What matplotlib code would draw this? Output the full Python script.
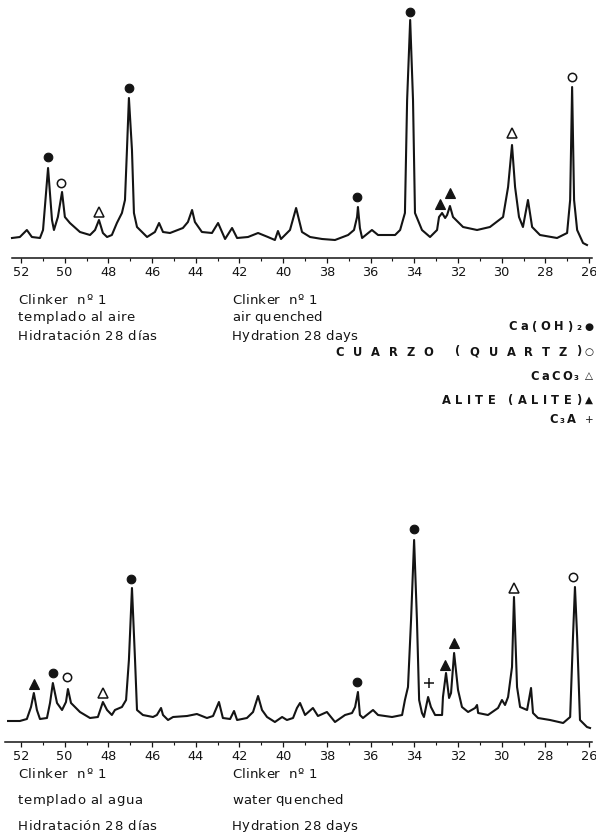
import matplotlib
matplotlib.use("Agg")
import matplotlib.pyplot as plt
from matplotlib.font_manager import FontProperties
from matplotlib.ticker import MultipleLocator

# ---------------- data (2-theta in degrees, relative intensity) ----------------
top_theta = [52.41, 52.05, 51.73, 51.50, 51.13, 50.99, 50.76, 50.58, 50.49, 50.31,
             50.12, 49.99, 49.76, 49.30, 48.84, 48.61, 48.43, 48.25, 48.06, 47.84,
             47.61, 47.38, 47.24, 47.15, 47.06, 46.92, 46.83, 46.69, 46.23, 45.87,
             45.68, 45.50, 45.18, 44.59, 44.36, 44.17, 44.04, 43.72, 43.26, 42.98,
             42.66, 42.34, 42.11, 41.61, 41.15, 40.70, 40.38, 40.24, 40.10, 39.69,
             39.41, 39.14, 38.77, 38.22, 37.63, 37.03, 36.76, 36.62, 36.58, 36.49,
             36.39, 35.94, 35.66, 34.88, 34.65, 34.43, 34.33, 34.19, 34.06, 33.97,
             33.65, 33.28, 32.96, 32.87, 32.73, 32.59, 32.50, 32.37, 32.23, 31.77,
             31.13, 30.54, 29.94, 29.71, 29.53, 29.39, 29.21, 29.03, 28.80, 28.61,
             28.25, 27.47, 27.01, 26.87, 26.78, 26.69, 26.55, 26.28, 26.10]
top_int = [20, 21, 28, 21, 20, 28, 90, 38, 28, 41,
           66, 41, 35, 26, 23, 28, 38, 25, 21, 23,
           35, 45, 58, 108, 160, 108, 45, 31, 21, 26,
           35, 26, 25, 30, 36, 48, 36, 26, 25, 35,
           19, 30, 20, 21, 25, 21, 18, 27, 19, 28,
           50, 26, 21, 19, 18, 23, 28, 41, 51, 30,
           20, 28, 23, 23, 28, 45, 158, 238, 158, 45,
           28, 21, 28, 41, 45, 40, 43, 52, 41, 31,
           28, 31, 41, 71, 113, 71, 41, 31, 58, 31,
           23, 20, 25, 58, 171, 58, 28, 15, 13]

bot_theta = [52.59, 52.05, 51.73, 51.54, 51.41, 51.27, 51.13, 50.81, 50.67, 50.54,
             50.35, 50.12, 49.94, 49.85, 49.71, 49.30, 48.84, 48.48, 48.25, 48.06,
             47.84, 47.70, 47.38, 47.19, 47.06, 46.92, 46.78, 46.69, 46.42, 45.96,
             45.78, 45.59, 45.50, 45.27, 45.04, 44.40, 43.95, 43.49, 43.21, 42.94,
             42.76, 42.43, 42.25, 42.11, 41.66, 41.38, 41.15, 40.97, 40.74, 40.38,
             40.05, 39.83, 39.55, 39.37, 39.23, 39.00, 38.64, 38.41, 38.00, 37.63,
             37.17, 36.85, 36.71, 36.58, 36.49, 36.35, 35.89, 35.66, 35.02, 34.56,
             34.43, 34.29, 34.15, 34.01, 33.88, 33.78, 33.65, 33.56, 33.37, 33.24,
             33.05, 32.73, 32.69, 32.55, 32.41, 32.32, 32.18, 32.00, 31.82, 31.54,
             31.22, 31.13, 31.08, 30.63, 30.17, 29.99, 29.85, 29.71, 29.53, 29.44,
             29.30, 29.16, 28.84, 28.66, 28.57, 28.34, 27.79, 27.19, 26.87, 26.74,
             26.65, 26.55, 26.42, 26.10, 25.96]
bot_int = [21, 21, 23, 35, 49, 32, 23, 24, 39, 59,
           39, 32, 40, 53, 39, 30, 24, 25, 40, 32,
           27, 32, 35, 42, 82, 154, 82, 32, 27, 25,
           27, 34, 27, 22, 25, 26, 28, 24, 26, 40,
           24, 23, 31, 22, 24, 30, 46, 32, 25, 20,
           25, 22, 24, 34, 39, 27, 34, 26, 30, 20,
           27, 29, 35, 50, 27, 24, 32, 27, 25, 27,
           42, 55, 122, 202, 122, 42, 29, 25, 45, 35,
           27, 27, 45, 69, 44, 49, 89, 52, 35, 30,
           34, 37, 29, 27, 34, 42, 37, 45, 75, 145,
           55, 35, 32, 54, 29, 24, 22, 19, 25, 105,
           155, 105, 22, 15, 14]

# phase markers
top_marks_kind = ["CH", "Q", "CC", "CH", "CH", "CH", "AL", "AL", "CC", "Q"]
top_marks_x = [50.76, 50.17, 48.43, 47.06, 36.62, 34.19, 32.82, 32.37, 29.53, 26.78]
top_marks_y = [101, 75, 46, 170, 61, 246, 54, 65, 125, 181]

bot_marks_kind = ["AL", "CH", "Q", "CC", "CH", "CH", "CH", "C3A", "AL", "AL", "CC", "Q"]
bot_marks_x = [51.41, 50.54, 49.89, 48.25, 46.97, 36.62, 34.01, 33.33, 32.59, 32.18, 29.44, 26.74]
bot_marks_y = [58, 69, 65, 49, 163, 60, 213, 59, 77, 99, 154, 165]

tick_values = list(range(52, 25, -2))

legend_labels = ["Ca(OH)\u2082", "CUARZO (QUARTZ)", "CaCO\u2083", "ALITE (ALITE)", "C\u2083A"]
legend_symbols = ["\u25cf", "\u25cb", "\u25b3", "\u25b2", "+"]

top_text_es = ["Clinker  n\u00ba 1", "templado al aire", "Hidrataci\u00f3n 28 d\u00edas"]
top_text_en = ["Clinker  n\u00ba 1", "air quenched", "Hydration 28 days"]
bot_text_es = ["Clinker  n\u00ba 1", "templado al agua", "Hidrataci\u00f3n 28 d\u00edas"]
bot_text_en = ["Clinker  n\u00ba 1", "water quenched", "Hydration 28 days"]

# ---------------- figure ----------------
W, H = 596, 836
fig = plt.figure(figsize=(W / 100, H / 100), dpi=100)
fig.patch.set_facecolor("white")

XL = (52.73, 25.87)
ink = "#141414"

marker_style = {
    "CH": dict(marker="o", ms=6.2, mfc=ink, mec=ink, mew=0.8),
    "Q": dict(marker="o", ms=6.0, mfc="white", mec=ink, mew=1.1),
    "CC": dict(marker="^", ms=7.5, mfc="white", mec=ink, mew=1.1),
    "AL": dict(marker="^", ms=7.5, mfc=ink, mec=ink, mew=0.8),
    "C3A": dict(marker="+", ms=7, mfc=ink, mec=ink, mew=1.1),
}


def make_axes(top_px, bottom_px, ymax):
    b = 1 - bottom_px / H
    h = (bottom_px - top_px) / H
    ax = fig.add_axes([5 / W, b, 587 / W, h])
    ax.set_xlim(*XL)
    ax.set_ylim(0, ymax)
    for s in ("top", "left", "right"):
        ax.spines[s].set_visible(False)
    ax.spines["bottom"].set_linewidth(1.1)
    ax.spines["bottom"].set_color(ink)
    ax.set_yticks([])
    ax.xaxis.set_minor_locator(MultipleLocator(1))
    ax.set_xticks(tick_values)
    ax.set_xticklabels([str(v) for v in tick_values])
    ax.tick_params(axis="x", which="major", direction="out", length=3.5, width=0.9,
                   colors=ink, labelsize=9.3, pad=2.0)
    ax.tick_params(axis="x", which="minor", direction="out", length=2.5, width=0.8, colors=ink)
    ax.patch.set_alpha(0)
    return ax


ax1 = make_axes(5, 258, 253)
ax1.spines["bottom"].set_bounds(52.41, 25.87)
ax1.plot(top_theta, top_int, color=ink, lw=1.5, solid_joinstyle="round")
for k, x, y in zip(top_marks_kind, top_marks_x, top_marks_y):
    ax1.plot([x], [y], ls="none", **marker_style[k])

ax2 = make_axes(520, 742, 222)
ax2.plot(bot_theta, bot_int, color=ink, lw=1.5, solid_joinstyle="round")
for k, x, y in zip(bot_marks_kind, bot_marks_x, bot_marks_y):
    ax2.plot([x], [y], ls="none", **marker_style[k])

# ---------------- text helpers ----------------
renderer = fig.canvas.get_renderer()


def _w(s, fp):
    return renderer.get_text_width_height_descent(s, fp, ismath=False)[0]


def tracked(x, y, s, size, weight="normal", track=0.0, ha="left"):
    fp = FontProperties(family="DejaVu Sans", size=size, weight=weight)
    bar = _w("|", fp)
    offs = [(_w(s[:i] + "|", fp) - bar) if i > 0 else 0.0 for i in range(len(s) + 1)]
    total = offs[-1] + track * (len(s) - 1)
    x0 = x - total if ha == "right" else x
    for i, c in enumerate(s):
        if c != " ":
            fig.text((x0 + offs[i] + track * i) / W, 1 - y / H, c, fontproperties=fp,
                     va="center", ha="left", color=ink)


# captions
for i, line in enumerate(top_text_es):
    tracked(18, 300 + 18 * i, line, 9.5, track=0.5)
for i, line in enumerate(top_text_en):
    tracked(232, 300 + 18 * i, line, 9.5, track=0.2)
for i, line in enumerate(bot_text_es):
    tracked(18, 774 + 26 * i, line, 9.5, track=0.5)
for i, line in enumerate(bot_text_en):
    tracked(232, 774 + 26 * i, line, 9.5, track=0.2)

# legend
leg_y = [327, 352, 376, 400, 420]
leg_end = [581, 581, 579, 581, 576]
leg_track = [3.6, 9.0, 2.2, 4.4, 2.2]
for lab, sym, y, xe, tr in zip(legend_labels, legend_symbols, leg_y, leg_end, leg_track):
    tracked(xe, y, lab, 8.3, weight="bold", track=tr, ha="right")
    fig.text(589 / W, 1 - y / H, sym, fontsize=7.5, ha="center", va="center",
             color=ink, family="DejaVu Sans")

fig.savefig("out.png", dpi=100, facecolor="white")
